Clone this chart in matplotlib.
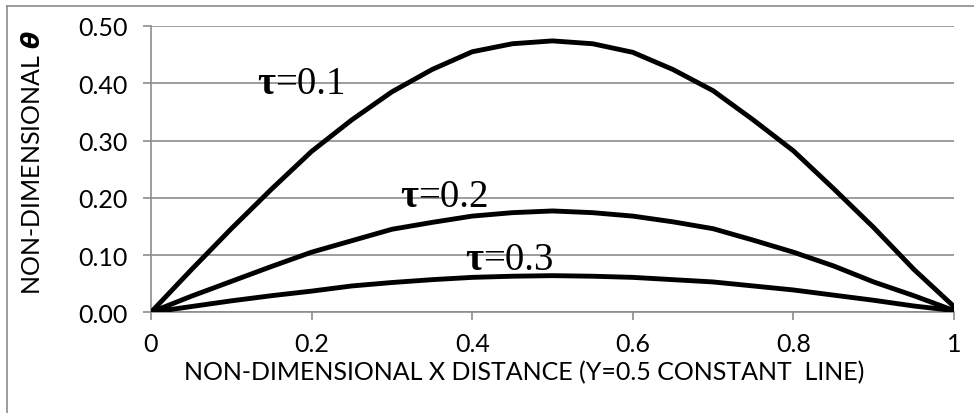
import numpy as np
import matplotlib
matplotlib.use("Agg")
import matplotlib.pyplot as plt
from matplotlib.lines import Line2D

# values
x = [0.0, 0.05, 0.1, 0.15, 0.2, 0.25, 0.3, 0.35, 0.4, 0.45, 0.5,
     0.55, 0.6, 0.65, 0.7, 0.75, 0.8, 0.85, 0.9, 0.95, 1.0]
theta_t01 = [0.0, 0.074, 0.146, 0.215, 0.281, 0.336, 0.385, 0.424, 0.455, 0.469, 0.474,
             0.469, 0.454, 0.424, 0.387, 0.336, 0.282, 0.216, 0.148, 0.075, 0.010]
theta_t02 = [0.0, 0.028, 0.054, 0.080, 0.105, 0.125, 0.145, 0.157, 0.168, 0.174, 0.177,
             0.174, 0.168, 0.158, 0.146, 0.126, 0.105, 0.081, 0.053, 0.029, 0.003]
theta_t03 = [0.0, 0.010, 0.020, 0.029, 0.037, 0.046, 0.052, 0.057, 0.061, 0.063, 0.064,
             0.063, 0.061, 0.057, 0.053, 0.046, 0.039, 0.030, 0.021, 0.011, 0.003]
curve_labels = ["0.1", "0.2", "0.3"]
label_pos = [(0.132, 0.383), (0.310, 0.1855), (0.391, 0.0756)]

xticks = [0, 0.2, 0.4, 0.6, 0.8, 1]
xticklabels = ["0", "0.2", "0.4", "0.6", "0.8", "1"]
yticks = [0.0, 0.1, 0.2, 0.3, 0.4, 0.5]

grey = "#8c8c8c"
plt.rcParams['font.family'] = ['Lato', 'DejaVu Sans']
plt.rcParams['mathtext.fontset'] = 'dejavusans'

fig = plt.figure(figsize=(9.74, 4.14), dpi=100)
ax = fig.add_axes([151/974, 1 - 313.3/414, (954 - 151)/974, (313.3 - 27)/414])

for yv in (theta_t01, theta_t02, theta_t03):
    ax.plot(x, yv, color='black', lw=3.5, solid_capstyle='round', solid_joinstyle='round', zorder=3)

ax.set_xlim(0, 1)
ax.set_ylim(0, 0.5)
ax.set_xticks(xticks)
ax.set_xticklabels(xticklabels)
ax.set_yticks(yticks)
ax.set_yticklabels([f"{v:.2f}" for v in yticks])
ax.tick_params(axis='both', labelsize=18, color=grey, width=1.2, length=6, direction='out')
ax.tick_params(axis='y', pad=11)
ax.tick_params(axis='x', pad=8)
ax.grid(axis='y', color=grey, lw=1.2)
ax.set_axisbelow(True)
for s in ('top', 'right'):
    ax.spines[s].set_visible(False)
for s in ('left', 'bottom'):
    ax.spines[s].set_color(grey)
    ax.spines[s].set_linewidth(1.2)

# tau labels: bold tau followed by regular "=0.x"
for lab, (lx, ly) in zip(curve_labels, label_pos):
    t = ax.text(lx, ly, "τ", fontsize=28, fontweight='bold', family='Liberation Serif',
                va='baseline', ha='left', zorder=4)
    ax.annotate("=" + lab, xy=(1, 0), xycoords=t, fontsize=28, family='Liberation Serif',
                va='bottom', ha='left', zorder=4)

fig.text(524/974, 1 - 373/414, "NON-DIMENSIONAL X DISTANCE (Y=0.5 CONSTANT  LINE)",
         fontsize=18, ha='center', va='center')
fig.text(33/974, 1 - 163/414, r"NON-DIMENSIONAL $\mathbfit{\theta}$",
         fontsize=18, ha='center', va='center', rotation=90)

# chart border (only top and left edges are in the picture)
fig.add_artist(Line2D([7/974, 7/974], [0, 1 - 7/414], color=grey, lw=1.2, transform=fig.transFigure))
fig.add_artist(Line2D([7/974, 1], [1 - 7/414, 1 - 7/414], color=grey, lw=1.2, transform=fig.transFigure))

fig.savefig("out.png", dpi=100)
